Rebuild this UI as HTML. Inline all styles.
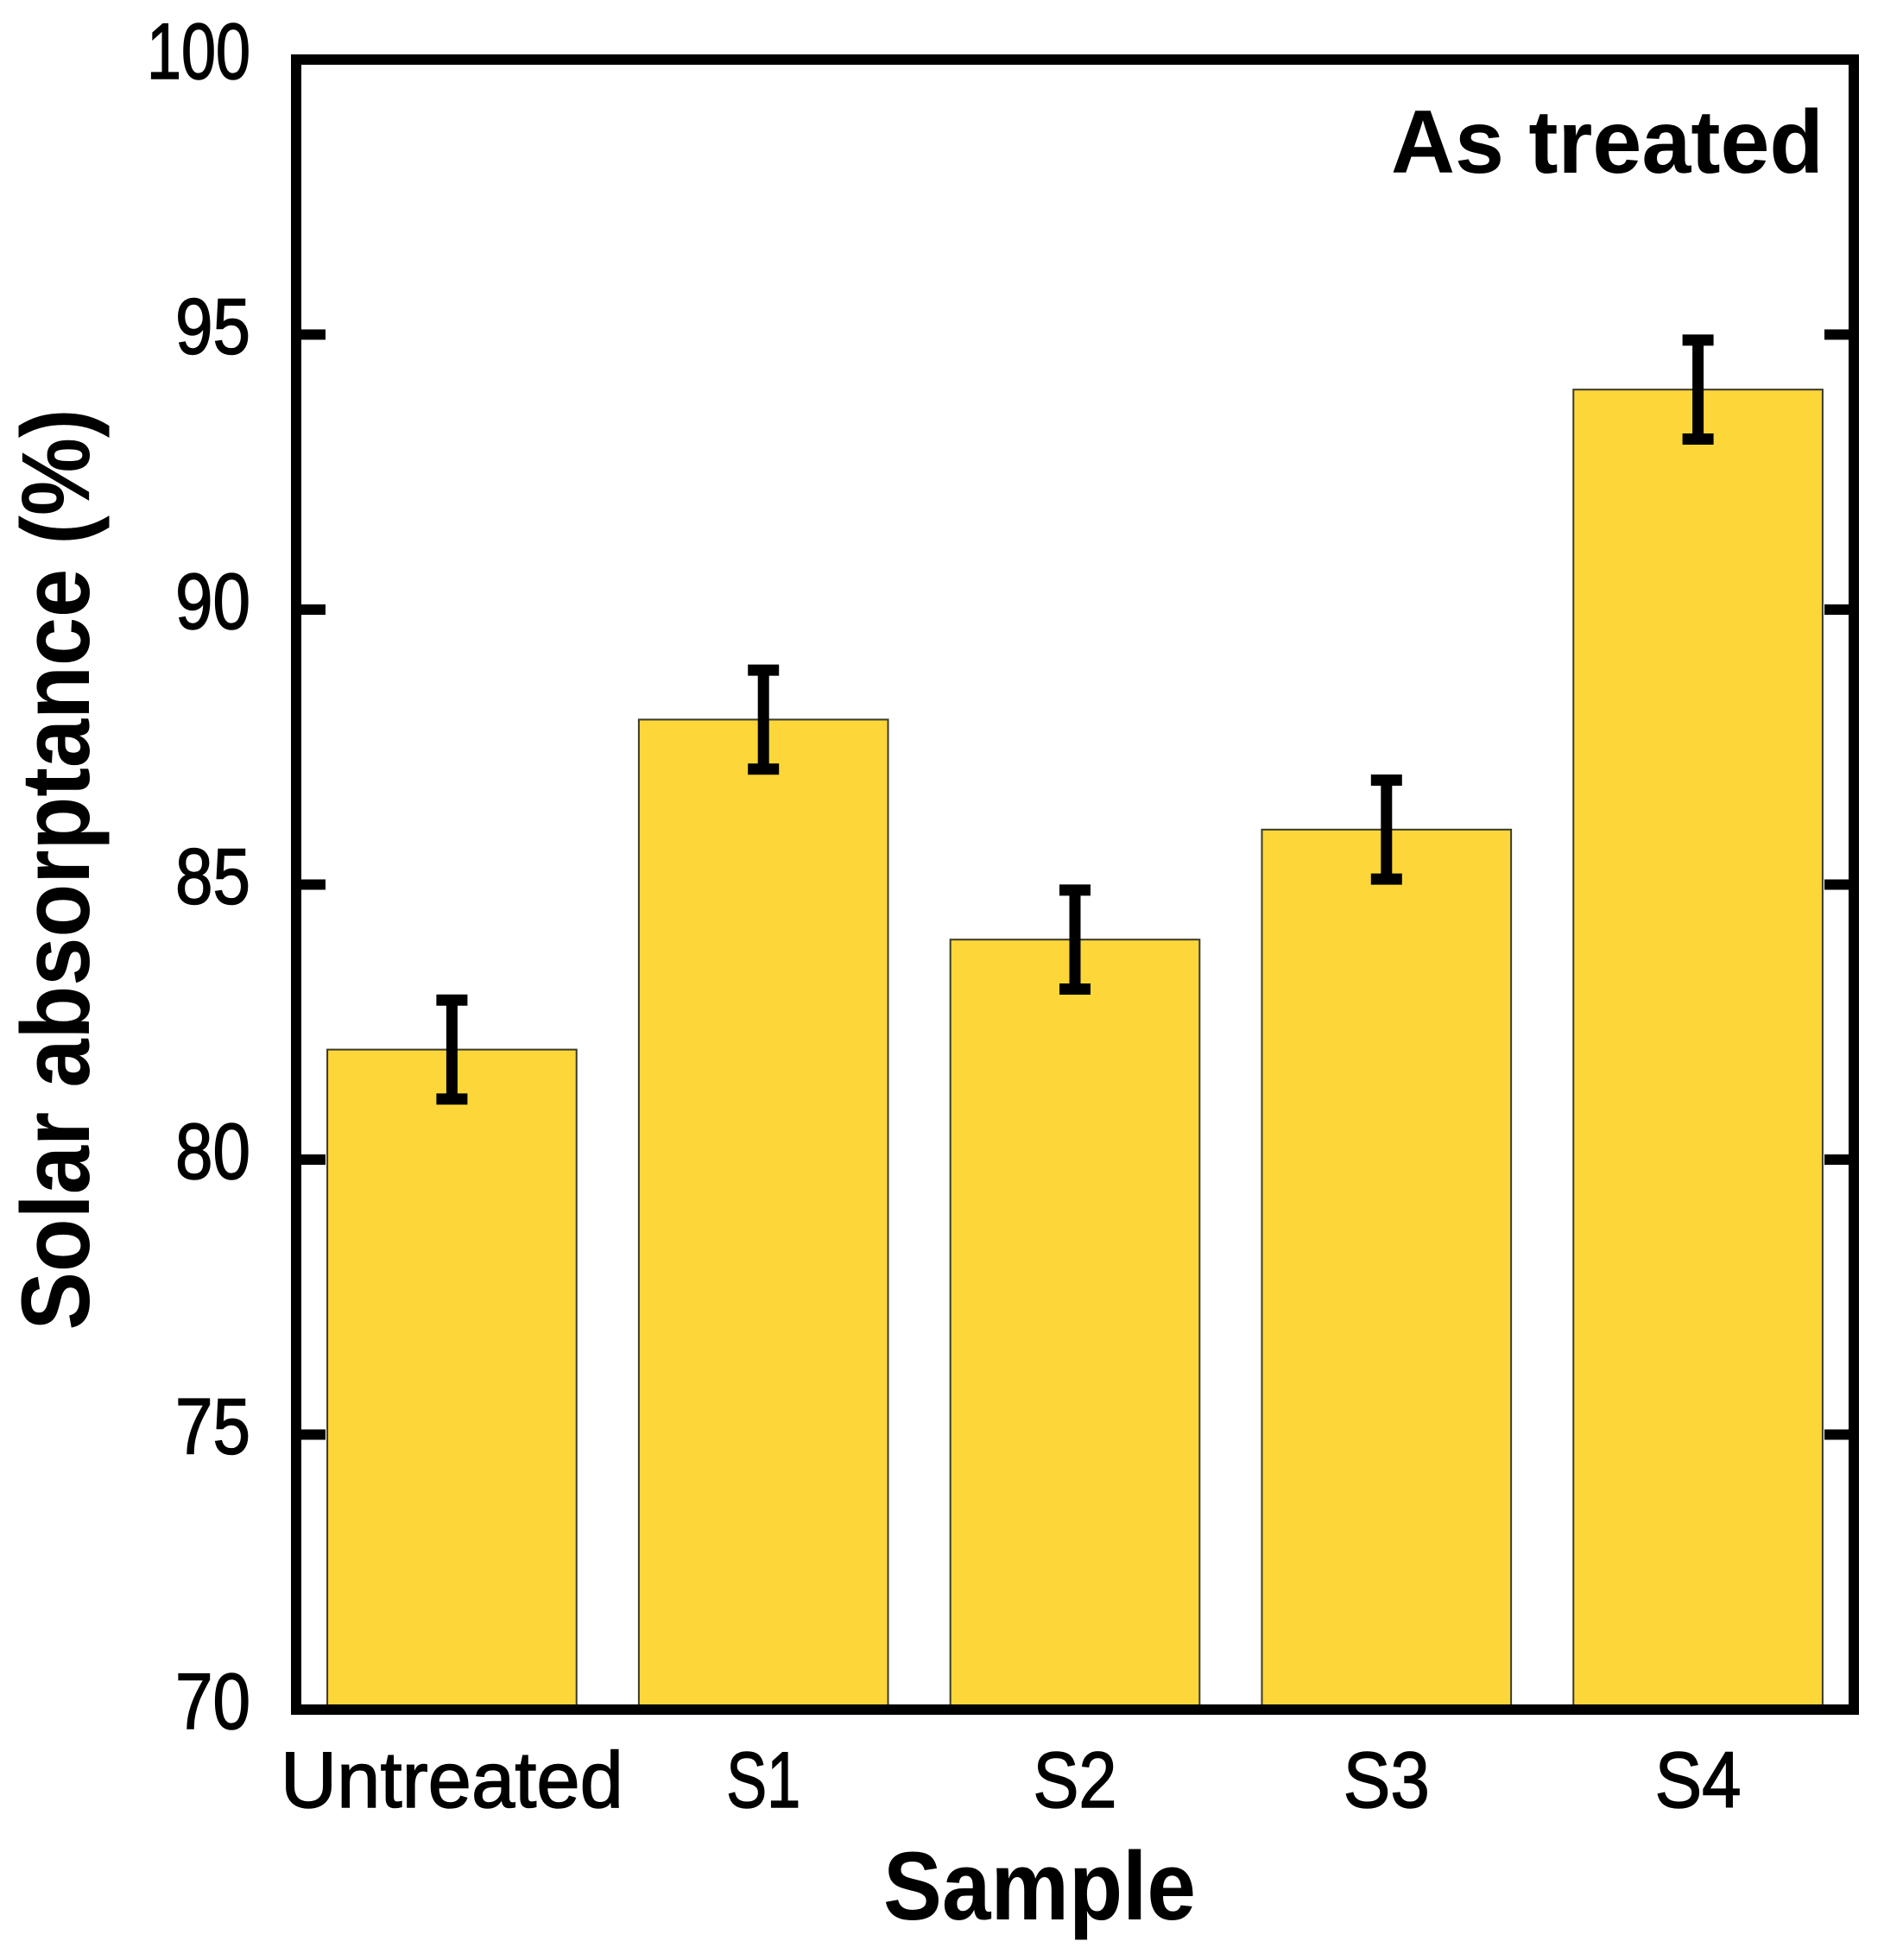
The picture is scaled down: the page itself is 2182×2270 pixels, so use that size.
<!DOCTYPE html>
<html><head><meta charset="utf-8"><style>
html,body{margin:0;padding:0;background:#fff;}
svg{display:block;font-family:"Liberation Sans",sans-serif;}
</style></head><body>
<svg id="chart" width="2182" height="2270" viewBox="0 0 2182 2270" xmlns="http://www.w3.org/2000/svg">
<g id="bars"></g>
<g id="errs"></g>
<g id="axes"></g>
<g id="ylabels"></g>
<g id="xlabels"></g>
<text x="1204" y="2223" text-anchor="middle" font-size="112" font-weight="bold" textLength="362" lengthAdjust="spacingAndGlyphs">Sample</text>
<text transform="translate(103,1007) rotate(-90)" x="0" y="0" text-anchor="middle" font-size="112" font-weight="bold" textLength="1067" lengthAdjust="spacingAndGlyphs">Solar absorptance (%)</text>
<text x="2112" y="200" text-anchor="end" font-size="104" font-weight="bold" textLength="501" lengthAdjust="spacingAndGlyphs">As treated</text>
</svg>
<script>
const categories = ["Untreated", "S1", "S2", "S3", "S4"];
const values = [82, 88, 84, 86, 94];
const errors = [0.9, 0.9, 0.9, 0.9, 0.9];
const yTicks = [70, 75, 80, 85, 90, 95, 100];
const catWidths = [397, 86, 97, 100, 100];

const NS = "http://www.w3.org/2000/svg";
const L = 343, R = 2147, T = 69, B = 1980;
const yMin = 70, yMax = 100;
function y(v){ return B - (v - yMin) / (yMax - yMin) * (B - T); }
const band = (R - L) / categories.length;
function xBand(i){ return L + i * band; }
function mk(tag, attrs, parent){
  const e = document.createElementNS(NS, tag);
  for (const k in attrs) e.setAttribute(k, attrs[k]);
  parent.appendChild(e);
  return e;
}
const gB = document.getElementById('bars');
const gE = document.getElementById('errs');
const gA = document.getElementById('axes');
const gY = document.getElementById('ylabels');
const gX = document.getElementById('xlabels');
const bw = band * 0.8;
categories.forEach((c, i) => {
  const x0 = xBand(i) + band * 0.1;
  const r = mk('rect', {x: x0, y: y(values[i]), width: bw, height: B - y(values[i]), fill: '#fdd73a', stroke: '#3a3a2a', 'stroke-width': 2}, gB);
  
  
  const cx = xBand(i) + band / 2;
  const yt = y(values[i] + errors[i]), yb = y(values[i] - errors[i]);
  const eg = mk('g', {}, gE);
  
  
  mk('line', {x1: cx, x2: cx, y1: yt, y2: yb, stroke: '#000', 'stroke-width': 13}, eg);
  mk('line', {x1: cx - 18, x2: cx + 18, y1: yt, y2: yt, stroke: '#000', 'stroke-width': 13}, eg);
  mk('line', {x1: cx - 18, x2: cx + 18, y1: yb, y2: yb, stroke: '#000', 'stroke-width': 13}, eg);
  const t = mk('text', {x: cx, y: 2093, 'text-anchor': 'middle', 'font-size': 92, stroke: '#000', 'stroke-width': 1.5, textLength: catWidths[i], lengthAdjust: 'spacingAndGlyphs'}, gX);
  t.textContent = c;
  
  
});
yTicks.forEach(v => {
  const yy = y(v);
  if (v !== yMin && v !== yMax) {
    mk('line', {x1: L, x2: L + 34, y1: yy, y2: yy, stroke: '#000', 'stroke-width': 12}, gA);
    mk('line', {x1: R - 34, x2: R, y1: yy, y2: yy, stroke: '#000', 'stroke-width': 12}, gA);
  }
  const s = String(v);
  const t = mk('text', {x: 290, y: yy + 22, 'text-anchor': 'end', 'font-size': 92, stroke: '#000', 'stroke-width': 1.5, textLength: s.length === 3 ? 120 : 87, lengthAdjust: 'spacingAndGlyphs'}, gY);
  t.textContent = s;
  
  
});
const frame = mk('rect', {x: L, y: T, width: R - L, height: B - T, fill: 'none', stroke: '#000', 'stroke-width': 12}, gA);


</script>
</body></html>
